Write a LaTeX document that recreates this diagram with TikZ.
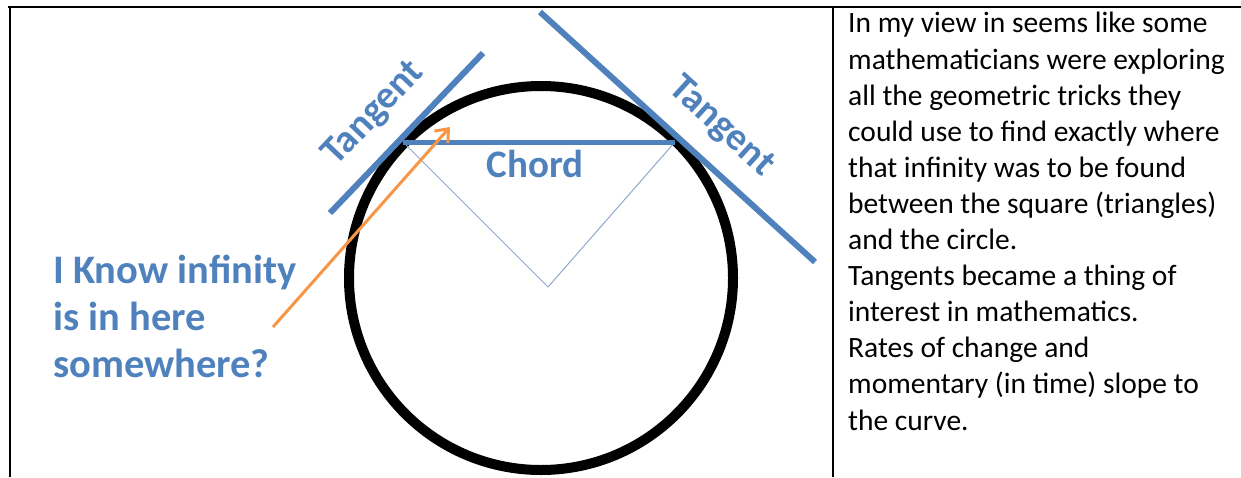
\documentclass[tikz,border=0pt]{standalone}
\usepackage{fontspec}
\setmainfont{Carlito}
\usetikzlibrary{arrows.meta}
\definecolor{oblue}{HTML}{4F81BD}
\definecolor{oorange}{HTML}{F79646}
\definecolor{thinblue}{HTML}{8EA9CF}
\tikzset{
  tableline/.style={line width=2.2pt, black},
  tanline/.style={line width=6pt, oblue},
  chordline/.style={line width=5pt, oblue},
  radline/.style={line width=1pt, thinblue},
  bluelabel/.style={text=oblue, font=\bfseries\fontsize{39}{47}\selectfont, inner sep=0pt},
  bodytext/.style={font=\fontsize{29.5}{36.1}\selectfont, align=left, inner sep=0pt, anchor=base west},
}
\begin{document}
\begin{tikzpicture}[x=1pt,y=-1pt]
\useasboundingbox (0,0) rectangle (1241,477);
% table frame
\coordinate (tl) at (8,7);
\coordinate (tr) at (1241,7);
\coordinate (lb) at (10,477);
\coordinate (lt) at (10,7);
\coordinate (dt) at (833,7);
\coordinate (db) at (833,477);
\draw[tableline] (tl) -- (tr);
\draw[tableline] (lt) -- (lb);
\draw[tableline] (dt) -- (db);
% geometry
\coordinate (C) at (541,278);
\coordinate (A) at (403,142);
\coordinate (B) at (675,142);
\coordinate (O) at (548,287);
\draw[line width=10pt, black] (C) circle[radius=192];
\draw[radline] (A) -- (O) -- (B);
\draw[chordline] (A) -- (B);
\coordinate (t1a) at (330,213);
\coordinate (t1b) at (483,53);
\coordinate (t2a) at (540,12);
\coordinate (t2b) at (815,262);
\draw[tanline] (t1a) -- (t1b);
\draw[tanline] (t2a) -- (t2b);
% labels
\node[bluelabel, rotate=46.5] (tanL) at (374,114) {Tangent};
\node[bluelabel, rotate=-42.3] (tanR) at (721,127) {Tangent};
\node[bluelabel, anchor=base] (chord) at (535,177) {Chord};
\node[bluelabel, font=\bfseries\fontsize{40.5}{47}\selectfont, align=left, anchor=base west] (know) at (53,377) {I Know infinity\\is in here\\somewhere?};
% arrow
\coordinate (arrS) at (273,327);
\coordinate (arrE) at (450,127);
\draw[oorange, line width=3pt, -{Straight Barb[length=11pt, width=18pt, line width=3pt]}] (arrS) -- (arrE);
% body text
\node[bodytext] (body) at (848,430) {In my view in seems like some\\mathematicians were exploring\\all the geometric tricks they\\could use to find exactly where\\that infinity was to be found\\between the square (triangles)\\and the circle.\\Tangents became a thing of\\interest in mathematics.\\Rates of change and\\momentary (in time) slope to\\the curve.};
\end{tikzpicture}
\end{document}
